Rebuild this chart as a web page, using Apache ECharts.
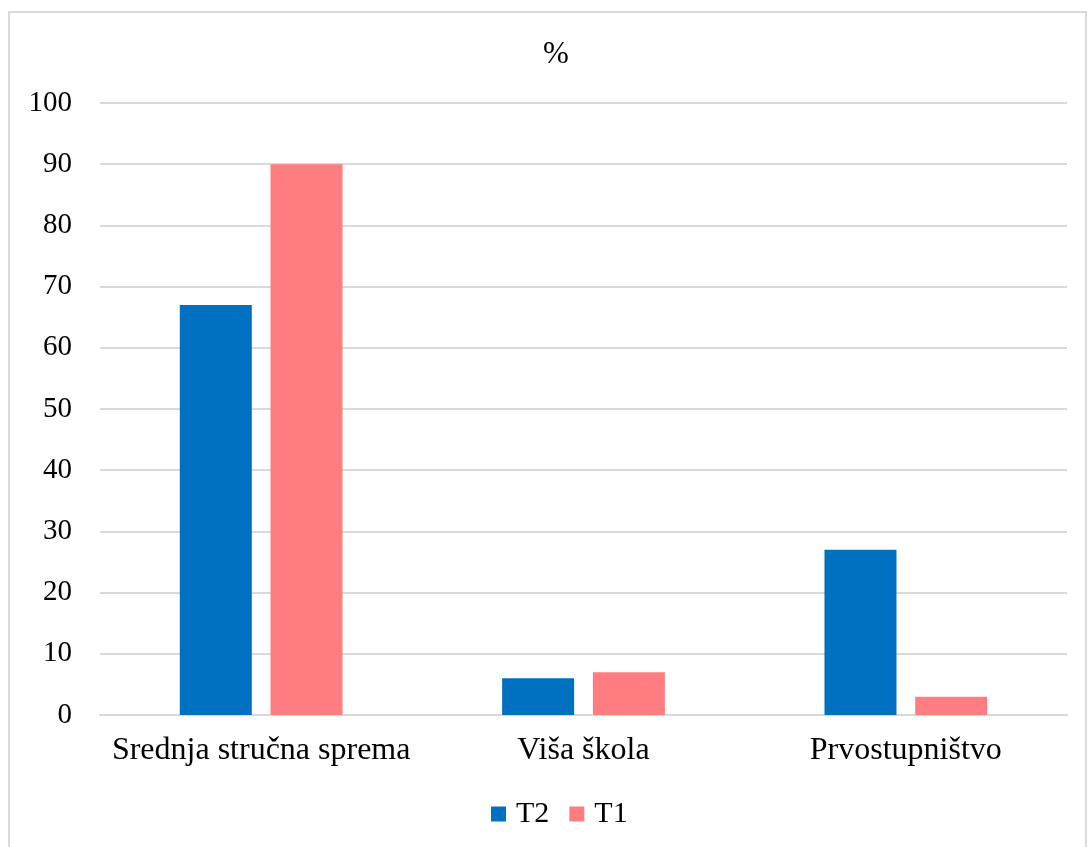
<!DOCTYPE html>
<html><head><meta charset="utf-8">
<script src="https://cdn.jsdelivr.net/npm/echarts@6/dist/echarts.min.js"></script>
<style>html,body{margin:0;padding:0;background:#fff}#c{width:1089px;height:847px}</style>
</head><body><div id="c"></div>
<script>
const categories = ['Srednja stručna sprema', 'Viša škola', 'Prvostupništvo'];
const seriesNames = ['T2', 'T1'];
const t2Values = [67, 6, 27];
const t1Values = [90, 7, 3];
const FONT = '"Liberation Serif", "Times New Roman", serif';
const chart = echarts.init(document.getElementById('c'));
chart.setOption({
  animation: false,
  backgroundColor: '#fff',
  graphic: [{type:'rect', shape:{x:9,y:12,width:1077,height:840}, style:{fill:'none', stroke:'#d9d9d9', lineWidth:2}, silent:true}],
  title: {text: '%', left: 538, top: 34, textStyle: {fontFamily: FONT, fontSize: 31, fontWeight: 'normal', color: '#000'}},
  legend: {data: seriesNames, bottom: 13, left: 486, itemWidth: 15, itemHeight: 15, itemGap: 20, icon: 'rect',
    textStyle: {fontFamily: FONT, fontSize: 30, color: '#000', padding:[0,0,0,5]}},
  grid: {left: 100, right: 22, top: 103, bottom: 132},
  xAxis: {type: 'category', data: categories, axisTick: {show: false}, axisLine: {lineStyle: {color: '#d9d9d9', width: 2}},
    axisLabel: {interval: 0, fontFamily: FONT, fontSize: 32, color: '#000', margin: 20}},
  yAxis: {type: 'value', min: 0, max: 100, interval: 10, axisLine: {show: false}, axisTick: {show: false},
    splitLine: {lineStyle: {color: '#d9d9d9', width: 2}},
    axisLabel: {fontFamily: FONT, fontSize: 29, color: '#000', margin: 28}},
  series: [
    {name: 'T2', type: 'bar', data: t2Values, barWidth: 72, barGap: '26%', itemStyle: {color: '#0070C0'}},
    {name: 'T1', type: 'bar', data: t1Values, barWidth: 72, barGap: '26%', itemStyle: {color: '#FF7C80'}}
  ]
});
</script></body></html>
